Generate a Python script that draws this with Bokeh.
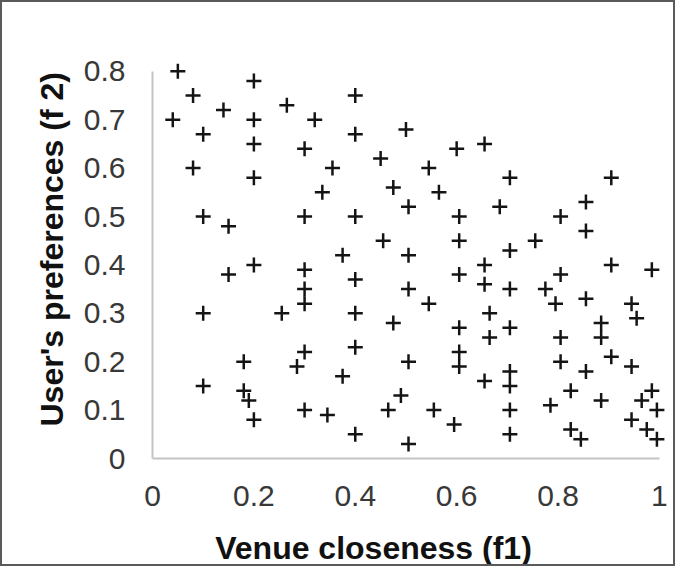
from bokeh.plotting import figure
from bokeh.models import Range1d, FixedTicker, Title
from bokeh.embed import file_html
from bokeh.resources import INLINE

# Data
venue_closeness = [
    0.05, 0.08, 0.20, 0.14, 0.04, 0.20, 0.265, 0.32, 0.40, 0.10, 0.40, 0.20, 0.30,
    0.45, 0.08, 0.355, 0.20, 0.475, 0.335, 0.10, 0.15, 0.30, 0.40, 0.455, 0.375, 0.20,
    0.50, 0.60, 0.655, 0.545, 0.705, 0.905, 0.565, 0.505, 0.685, 0.855, 0.605, 0.805,
    0.855, 0.605, 0.755, 0.705, 0.505, 0.655, 0.905, 0.985,
    0.15, 0.30, 0.40, 0.30, 0.30, 0.10, 0.255, 0.40, 0.475, 0.30, 0.40, 0.18, 0.285,
    0.375, 0.10, 0.18, 0.19, 0.20, 0.30, 0.345, 0.465, 0.40, 0.49,
    0.605, 0.655, 0.705, 0.505, 0.545, 0.605, 0.665, 0.665, 0.705, 0.505, 0.605, 0.605,
    0.655, 0.705, 0.705, 0.555, 0.595, 0.705, 0.705, 0.505,
    0.775, 0.795, 0.805, 0.855, 0.945, 0.955, 0.885, 0.885, 0.805, 0.805, 0.855, 0.905,
    0.945, 0.825, 0.785, 0.885, 0.985, 0.965, 0.995, 0.825, 0.845, 0.945, 0.975, 0.995,
]
user_preferences = [
    0.80, 0.75, 0.78, 0.72, 0.70, 0.70, 0.73, 0.70, 0.75, 0.67, 0.67, 0.65, 0.64,
    0.62, 0.60, 0.60, 0.58, 0.56, 0.55, 0.50, 0.48, 0.50, 0.50, 0.45, 0.42, 0.40,
    0.68, 0.64, 0.65, 0.60, 0.58, 0.58, 0.55, 0.52, 0.52, 0.53, 0.50, 0.50,
    0.47, 0.45, 0.45, 0.43, 0.42, 0.40, 0.40, 0.39,
    0.38, 0.39, 0.37, 0.35, 0.32, 0.30, 0.30, 0.30, 0.28, 0.22, 0.23, 0.20, 0.19,
    0.17, 0.15, 0.14, 0.12, 0.08, 0.10, 0.09, 0.10, 0.05, 0.13,
    0.38, 0.36, 0.35, 0.35, 0.32, 0.27, 0.30, 0.25, 0.27, 0.20, 0.22, 0.19,
    0.16, 0.18, 0.15, 0.10, 0.07, 0.10, 0.05, 0.03,
    0.35, 0.32, 0.38, 0.33, 0.32, 0.29, 0.28, 0.25, 0.25, 0.20, 0.18, 0.21,
    0.19, 0.14, 0.11, 0.12, 0.14, 0.12, 0.10, 0.06, 0.04, 0.08, 0.06, 0.04,
]
x_ticks = [0, 0.2, 0.4, 0.6, 0.8, 1]
x_tick_labels = ["0", "0.2", "0.4", "0.6", "0.8", "1"]
y_ticks = [0, 0.1, 0.2, 0.3, 0.4, 0.5, 0.6, 0.7, 0.8]
y_tick_labels = ["0", "0.1", "0.2", "0.3", "0.4", "0.5", "0.6", "0.7", "0.8"]
x_title = "Venue closeness (f1)"
y_title = "User's preferences (f 2)"

FONT = "Liberation Sans"

p = figure(
    width=675, height=566,
    x_range=Range1d(0, 520 / 505), y_range=Range1d(0, 407 / 490),
    output_backend="svg", toolbar_location=None,
    min_border_left=150, min_border_right=3, min_border_top=54, min_border_bottom=103,
)
p.styles = {"border": "2px solid #5a5a5a", "box-sizing": "border-box"}
p.outline_line_color = None
p.background_fill_color = "white"
p.border_fill_color = "white"
p.xgrid.visible = False
p.ygrid.visible = False

p.scatter(venue_closeness, user_preferences, marker="cross", size=15,
          line_color="#141414", line_width=2.5)

for ax, ticks, labels in ((p.xaxis[0], x_ticks, x_tick_labels),
                          (p.yaxis[0], y_ticks, y_tick_labels)):
    ax.ticker = FixedTicker(ticks=ticks)
    ax.major_label_overrides = {t: l for t, l in zip(ticks, labels)}
    ax.bounds = (ticks[0], ticks[-1])
    ax.axis_line_color = "#c4c4c4"
    ax.axis_line_width = 2
    ax.major_tick_line_color = None
    ax.minor_tick_line_color = None
    ax.major_label_text_font = FONT
    ax.major_label_text_font_size = "30px"
    ax.major_label_text_color = "#383838"

p.xaxis[0].major_label_standoff = 21
p.yaxis[0].major_label_standoff = 21

# x title: axis label, nudged left of the frame centre with trailing no-break spaces
xa = p.xaxis[0]
xa.axis_label = x_title + "\u00a0" * 9
xa.axis_label_standoff = 21
xa.axis_label_text_font = FONT
xa.axis_label_text_font_size = "32px"
xa.axis_label_text_font_style = "bold"
xa.axis_label_text_color = "#111111"

# y title: side title on the left, offset from the bottom of the frame
p.add_layout(Title(text=y_title, align="left", offset=32, standoff=22,
                   vertical_align="bottom", text_font=FONT, text_font_size="32px",
                   text_font_style="bold", text_color="#111111"), "left")

open("out.html", "w").write(file_html(p, INLINE))
